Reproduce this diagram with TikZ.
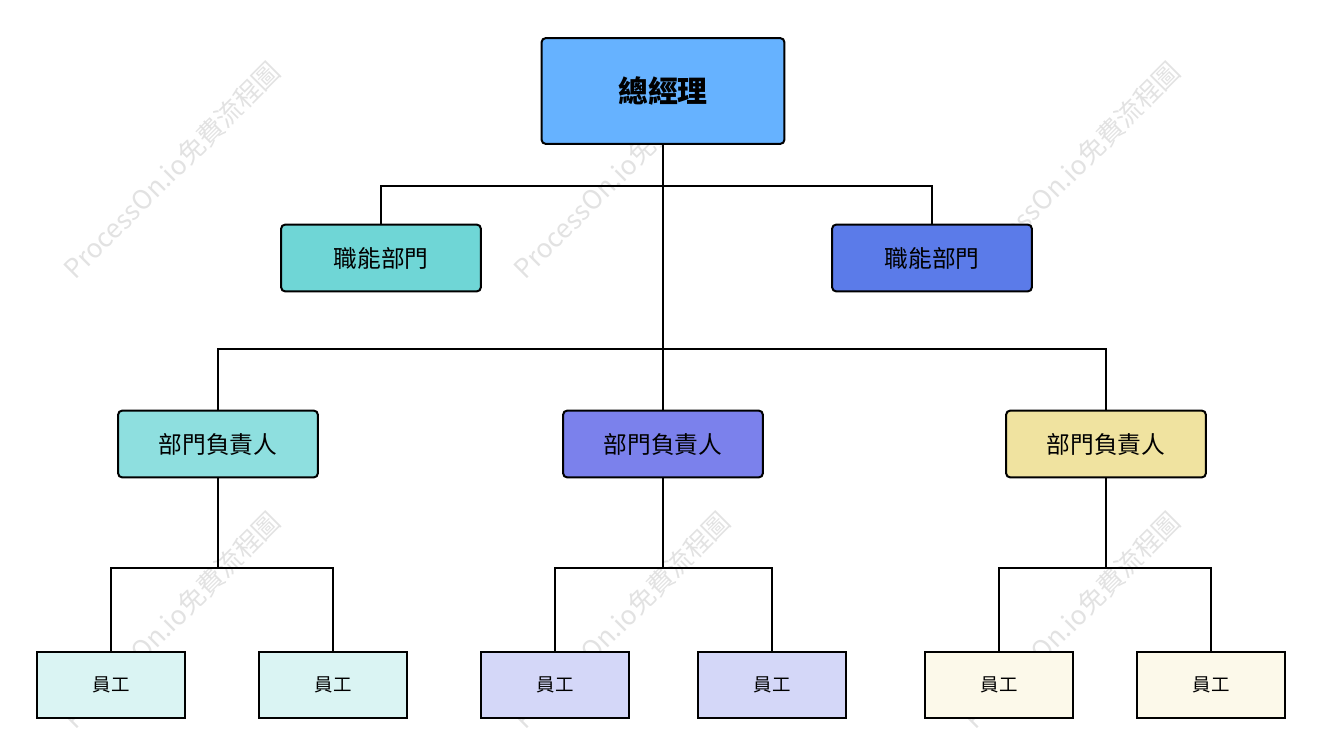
\documentclass[tikz,border=0pt]{standalone}
\usepackage{fontspec}
\setmainfont{Noto Sans CJK TC}
\usepackage{xcolor}
\usepackage{tikz}
\usetikzlibrary{calc}
\definecolor{jefeazul}{HTML}{66B2FF}
\definecolor{functurq}{HTML}{6FD6D6}
\definecolor{funcazul}{HTML}{5B7BE9}
\definecolor{headturq}{HTML}{8EDFDF}
\definecolor{headviol}{HTML}{7B81EC}
\definecolor{headamar}{HTML}{F0E3A0}
\definecolor{empturq}{HTML}{DAF4F3}
\definecolor{empviol}{HTML}{D4D7F8}
\definecolor{empamar}{HTML}{FCF9EA}
\definecolor{marcagris}{HTML}{E2E2E2}

\begin{document}
\begin{tikzpicture}[
    x=0.02cm, y=-0.02cm,
    every node/.style={inner sep=0pt, text=black},
    caja/.style={draw=black, line width=0.04cm, rounded corners=2.5pt},
    jefe/.style={caja, fill=jefeazul, minimum width=4.86cm, minimum height=2.12cm, font=\fontsize{17}{20}\selectfont\bfseries},
    funcbox/.style={caja, minimum width=4cm, minimum height=1.34cm, font=\fontsize{13.5}{16}\selectfont},
    empbox/.style={draw=black, line width=0.04cm, minimum width=2.96cm, minimum height=1.32cm, font=\fontsize{10.5}{12}\selectfont},
    linea/.style={draw=black, line width=0.04cm},
    marca/.style={text=marcagris, rotate=45, font=\fontsize{15}{18}\selectfont}
]
\useasboundingbox (0,0) rectangle (1322,756);

% marcas de agua
\foreach \x in {172,622,1072} {
    \foreach \y in {170,620} {
        \node[marca] (wm-\x-\y) at (\x,\y) {ProcessOn.io免費流程圖};
    }
}

% conectores (debajo de las cajas)
\coordinate (barraF) at (663,186);
\coordinate (barraH) at (663,349);

\node[jefe] (gm) at (663,91) {總經理};
\node[funcbox, fill=functurq] (func1) at (381,258) {職能部門};
\node[funcbox, fill=funcazul] (func2) at (932,258) {職能部門};

\node[funcbox, fill=headturq] (head1) at (218,444) {部門負責人};
\node[funcbox, fill=headviol] (head2) at (663,444) {部門負責人};
\node[funcbox, fill=headamar] (head3) at (1106,444) {部門負責人};

\node[empbox, fill=empturq] (emp1) at (111,685) {員工};
\node[empbox, fill=empturq] (emp2) at (333,685) {員工};
\node[empbox, fill=empviol] (emp3) at (555,685) {員工};
\node[empbox, fill=empviol] (emp4) at (772,685) {員工};
\node[empbox, fill=empamar] (emp5) at (999,685) {員工};
\node[empbox, fill=empamar] (emp6) at (1211,685) {員工};

\draw[linea] (gm.south) -- (head2.north);
\draw[linea] (func1.north) |- (barraF) -| (func2.north);
\draw[linea] (head1.north) |- (barraH) -| (head3.north);

\foreach \h/\a/\b in {1/1/2, 2/3/4, 3/5/6} {
    \coordinate (nudo\h) at ($(head\h.south)+(0,90)$);
    \draw[linea] (head\h.south) -- (nudo\h);
    \draw[linea] (emp\a.north) |- (nudo\h) -| (emp\b.north);
}
\end{tikzpicture}
\end{document}
